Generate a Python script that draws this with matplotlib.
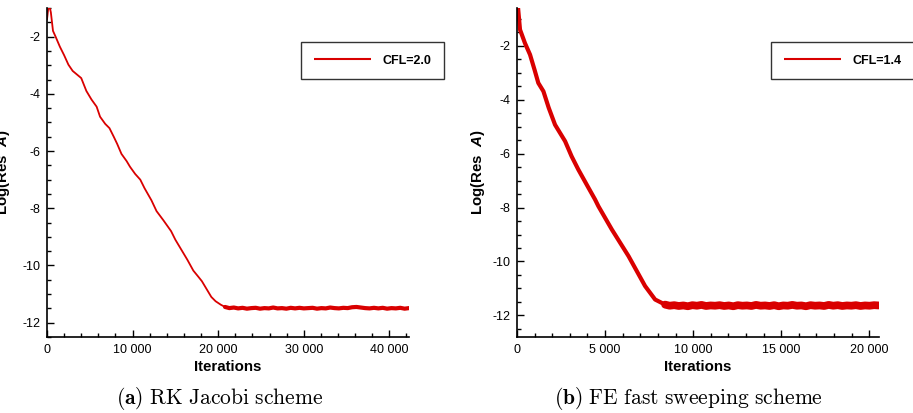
import numpy as np
import matplotlib
matplotlib.use("Agg")
import matplotlib.pyplot as plt
from matplotlib.ticker import MultipleLocator, FuncFormatter

plt.rcParams['font.family'] = ['Liberation Sans', 'DejaVu Sans']
plt.rcParams['axes.unicode_minus'] = False
plt.rcParams['mathtext.fontset'] = 'custom'
plt.rcParams['mathtext.it'] = 'Liberation Sans:italic:bold'
plt.rcParams['mathtext.rm'] = 'Liberation Sans:bold'

RED = '#d90000'

# (a) RK Jacobi, CFL=2.0 : descent
rk_iter = [0, 150, 300, 450, 700, 1000, 1500, 2000, 2500, 3000, 3600, 4000,
           4600, 5200, 5800, 6200, 6800, 7300, 7800, 8200, 8700, 9300, 9700,
           10300, 10900, 11400, 12200, 12800, 13600, 14500, 15000, 15700,
           16400, 17100, 17700, 18100, 18600, 19200, 19700, 20300, 20800]
rk_res = [-1.4, -1.0, -0.95, -1.15, -1.8, -2.0, -2.35, -2.65, -2.98, -3.2,
          -3.35, -3.45, -3.9, -4.2, -4.45, -4.8, -5.05, -5.2, -5.5, -5.75,
          -6.1, -6.35, -6.55, -6.8, -7.0, -7.3, -7.72, -8.1, -8.42, -8.8,
          -9.1, -9.45, -9.8, -10.18, -10.4, -10.55, -10.8, -11.1, -11.25,
          -11.37, -11.45]
# plateau (20 800 .. 42 300)
rk_plateau = [-11.45, -11.49, -11.47, -11.50, -11.48, -11.51, -11.49, -11.48,
              -11.51, -11.49, -11.50, -11.47, -11.50, -11.49, -11.51, -11.48,
              -11.50, -11.48, -11.50, -11.49, -11.48, -11.51, -11.49, -11.50,
              -11.47, -11.49, -11.50, -11.48, -11.49, -11.46, -11.45, -11.47,
              -11.49, -11.50, -11.48, -11.50, -11.48, -11.51, -11.49, -11.50,
              -11.48, -11.51, -11.49]

# (b) FE fast sweeping, CFL=1.4
fe_iter = [0, 60, 170, 450, 740, 1000, 1210, 1500, 1800, 2160, 2730, 3100,
           3480, 4000, 4430, 4620, 5380, 6330, 7270, 7840, 8410]
fe_res = [-0.55, -0.6, -1.4, -1.9, -2.33, -2.9, -3.38, -3.69, -4.3, -4.93,
          -5.54, -6.1, -6.59, -7.2, -7.70, -7.95, -8.81, -9.8, -10.91, -11.41,
          -11.60]
# plateau (8 410 .. 20 530)
fe_plateau = [-11.60, -11.64, -11.62, -11.65, -11.63, -11.66, -11.62, -11.64,
              -11.61, -11.65, -11.63, -11.64, -11.62, -11.65, -11.63, -11.66,
              -11.62, -11.64, -11.63, -11.65, -11.61, -11.64, -11.63, -11.65,
              -11.62, -11.66, -11.63, -11.64, -11.61, -11.64, -11.63, -11.66,
              -11.62, -11.64, -11.63, -11.65, -11.61, -11.64, -11.62, -11.65,
              -11.63, -11.64, -11.62, -11.65, -11.63, -11.64, -11.62, -11.63]

rk_px = np.linspace(20800, 42300, len(rk_plateau))
fe_px = np.linspace(8410, 20530, len(fe_plateau))

fig = plt.figure(figsize=(9.13, 4.13), dpi=100)
ax1 = fig.add_axes([47/913, 1-337/413, 362/913, 329/413])
ax2 = fig.add_axes([517/913, 1-337/413, 362/913, 329/413])

thousands = FuncFormatter(lambda v, p: f"{int(round(v)):,}".replace(",", " "))


def style(ax, xmax, ymin, ymax, xmajor, xminor, label_x):
    ax.set_xlim(0, xmax)
    ax.set_ylim(ymin, ymax)
    for s in ['top', 'right']:
        ax.spines[s].set_visible(False)
    for s in ['left', 'bottom']:
        ax.spines[s].set_linewidth(1.2)
    ax.xaxis.set_major_locator(MultipleLocator(xmajor))
    ax.xaxis.set_minor_locator(MultipleLocator(xminor))
    ax.yaxis.set_major_locator(MultipleLocator(2))
    ax.yaxis.set_minor_locator(MultipleLocator(0.5))
    ax.xaxis.set_major_formatter(thousands)
    ax.tick_params(which='both', direction='in', labelsize=9, width=1.0,
                   top=False, right=False, pad=5)
    ax.tick_params(which='major', length=5)
    ax.tick_params(which='minor', length=3)
    ax.set_xlabel("Iterations", fontsize=10.8, fontweight='bold', labelpad=3)
    ax.set_ylabel(r"Log(Res  $\mathit{A}$)", fontsize=10.8, fontweight='bold')
    ax.yaxis.set_label_coords(label_x, 0.5)


ax1.plot(rk_iter, rk_res, color=RED, lw=1.3, label="CFL=2.0",
         solid_capstyle='round')
ax1.plot(rk_px, rk_plateau, color=RED, lw=3.0, solid_capstyle='round')
style(ax1, 42300, -12.5, -1.0, 10000, 2000, -0.097)

ax2.plot(fe_iter, fe_res, color=RED, lw=3.0, label="CFL=1.4",
         solid_capstyle='round')
ax2.plot(fe_px, fe_plateau, color=RED, lw=5.6, solid_capstyle='round')
style(ax2, 20550, -12.8, -0.6, 5000, 1000, -0.083)

for ax, left in [(ax1, 301/913), (ax2, 771/913)]:
    leg = ax.legend(loc='upper left', bbox_to_anchor=(left, 1-42/413),
                    bbox_transform=fig.transFigure, borderaxespad=0,
                    fancybox=False, edgecolor='black', handlelength=4.6,
                    handletextpad=0.9, borderpad=1.0,
                    prop={'weight': 'bold', 'size': 9})
    leg.get_frame().set_linewidth(1.0)
    for line in leg.get_lines():
        line.set_linewidth(1.5)
        line.set_solid_capstyle('butt')

fig.text(220/913, 1-398/413, r"$\mathbf{(a)}\ \mathrm{RK\ Jacobi\ scheme}$",
         math_fontfamily='cm', fontsize=15.5, ha='center', va='center')
fig.text(688/913, 1-398/413, r"$\mathbf{(b)}\ \mathrm{FE\ fast\ sweeping\ scheme}$",
         math_fontfamily='cm', fontsize=15.5, ha='center', va='center')

fig.savefig("out.png", dpi=100)
